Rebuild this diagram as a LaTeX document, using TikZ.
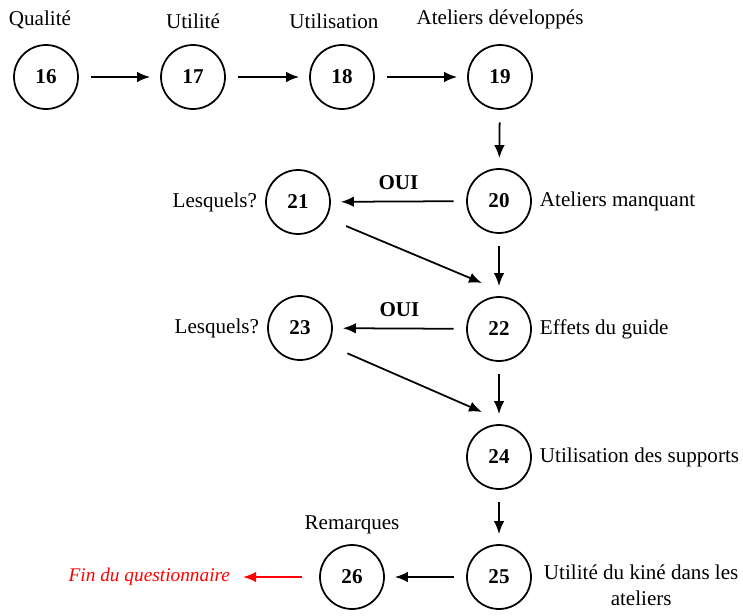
\documentclass[tikz,border=0pt]{standalone}
\usepackage{fontspec}
\setmainfont{Liberation Serif}
\usetikzlibrary{positioning,arrows.meta}

\begin{document}
\begin{tikzpicture}[x=0.02cm, y=-0.02cm,
question/.style={circle, draw, line width=1pt, minimum size=1.28cm, inner sep=0pt, font=\fontsize{12}{14}\selectfont\bfseries},
caption/.style={inner sep=1pt, font=\fontsize{12}{14.5}\selectfont},
arr/.style={-{Latex[length=2.6mm,width=2.1mm]}, line width=1pt, shorten <=0.25cm, shorten >=0.2cm},
yes/.style={midway, above=0.1cm, font=\fontsize{12}{14}\selectfont\bfseries}]
\useasboundingbox (0,0) rectangle (743,615);
\node[question] (n16) at (46,77) {16};
\node[question] (n17) at (193,77) {17};
\node[question] (n18) at (342,77) {18};
\node[question] (n19) at (500,77) {19};
\node[question] (n20) at (499,201) {20};
\node[question] (n21) at (298,202) {21};
\node[question] (n22) at (499,329) {22};
\node[question] (n23) at (300,328) {23};
\node[question] (n24) at (499,457) {24};
\node[question] (n25) at (499,577) {25};
\node[question] (n26) at (352,577) {26};
\coordinate (e22) at ([shift={(-17,-46)}]n22.center);
\coordinate (e24) at ([shift={(-17,-45)}]n24.center);

\node[caption, above=0.26cm of n16, xshift=-0.12cm] (t16) {Qualité};
\node[caption, above=0.26cm of n17] (t17) {Utilité};
\node[caption, above=0.26cm of n18, xshift=-0.16cm] (t18) {Utilisation};
\node[caption, above=0.26cm of n19] (t19) {Ateliers développés};
\node[caption, right=0.12cm of n20] (t20) {Ateliers manquant};
\node[caption, left=0.12cm of n21] (t21) {Lesquels?};
\node[caption, right=0.12cm of n22] (t22) {Effets du guide};
\node[caption, left=0.12cm of n23] (t23) {Lesquels?};
\node[caption, right=0.12cm of n24] (t24) {Utilisation des supports};
\node[caption, align=center, anchor=north west] (t25) at ([xshift=0.2cm, yshift=0.28cm]n25.east) {Utilité du kiné dans les\\ateliers};
\node[caption, above=0.16cm of n26] (t26) {Remarques};
\node[caption, text=red, font=\fontsize{11}{13}\selectfont\itshape, left=1.74cm of n26] (fin) {Fin du questionnaire};

\draw[arr] (n16) -- (n17);
\draw[arr] (n17) -- (n18);
\draw[arr] (n18) -- (n19);
\draw[arr] (n19) -- (n20);
\draw[arr] (n20) -- node[yes] {OUI} (n21);
\draw[arr] (n20) -- (n22);
\draw[arr, shorten <=0.42cm, shorten >=0pt] (n21.-29) -- (e22);
\draw[arr] (n22) -- node[yes] {OUI} (n23);
\draw[arr] (n22) -- (n24);
\draw[arr, shorten <=0.42cm, shorten >=0pt] (n23.-31) -- (e24);
\draw[arr] (n24) -- (n25);
\draw[arr] (n25) -- (n26);
\draw[arr, red, shorten <=0.34cm, shorten >=0.22cm] (n26) -- (fin);
\end{tikzpicture}
\end{document}
